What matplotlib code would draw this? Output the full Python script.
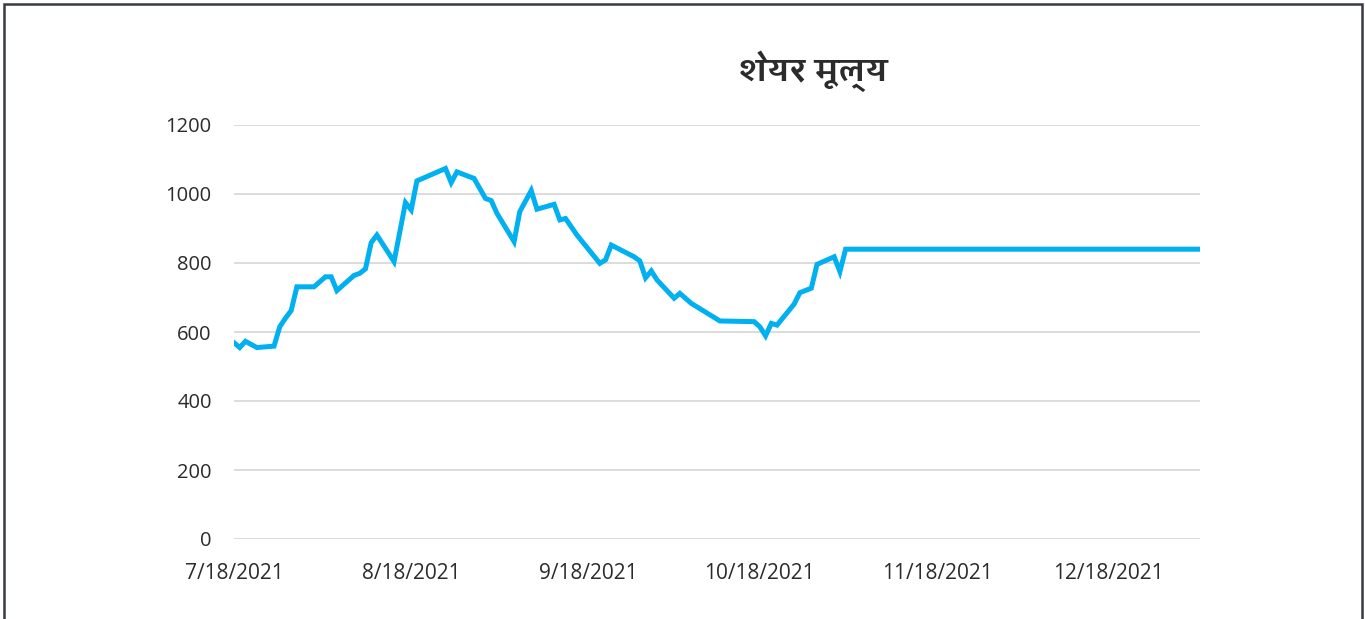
import matplotlib
matplotlib.use("Agg")
import matplotlib.pyplot as plt
import matplotlib.dates as mdates
from matplotlib import font_manager
from matplotlib.patches import Rectangle
import pandas as pd

# share price readings
dates = ["2021-07-18", "2021-07-19", "2021-07-20", "2021-07-22", "2021-07-25",
         "2021-07-26", "2021-07-27", "2021-07-28", "2021-07-29", "2021-08-01",
         "2021-08-03", "2021-08-04", "2021-08-05", "2021-08-08", "2021-08-09",
         "2021-08-10", "2021-08-11", "2021-08-12", "2021-08-15", "2021-08-17",
         "2021-08-18", "2021-08-19", "2021-08-24", "2021-08-25", "2021-08-26",
         "2021-08-29", "2021-08-31", "2021-09-01", "2021-09-02", "2021-09-05",
         "2021-09-06", "2021-09-08", "2021-09-09", "2021-09-12", "2021-09-13",
         "2021-09-14", "2021-09-16", "2021-09-20", "2021-09-21", "2021-09-22",
         "2021-09-26", "2021-09-27", "2021-09-28", "2021-09-29", "2021-09-30",
         "2021-10-03", "2021-10-04", "2021-10-06", "2021-10-11", "2021-10-17",
         "2021-10-18", "2021-10-19", "2021-10-20", "2021-10-21", "2021-10-24",
         "2021-10-25", "2021-10-27", "2021-10-28", "2021-10-31", "2021-11-01",
         "2021-11-02", "2022-01-03"]
prices = [569, 555, 573, 555, 559,
          615, 640, 662, 731, 731,
          760, 760, 720, 764, 770,
          783, 859, 881, 804, 975,
          954, 1038, 1074, 1033, 1064,
          1045, 987, 981, 944, 862,
          949, 1010, 956, 970, 925,
          929, 881, 799, 809, 852,
          818, 806, 757, 777, 751,
          698, 712, 683, 632, 630,
          615, 589, 625, 620, 681,
          714, 727, 796, 818, 775,
          840, 840]

tick_dates = ["2021-07-18", "2021-08-18", "2021-09-18", "2021-10-18",
              "2021-11-18", "2021-12-18"]
y_ticks = [0, 200, 400, 600, 800, 1000, 1200]
title = "शेयर मूल्य"

# pick an installed Devanagari family that has a real bold face
installed = {f.name for f in font_manager.fontManager.ttflist}
dev_font = "FreeSans"
for name in ["Amiko", "FreeSans", "Noto Sans Devanagari"]:
    if name in installed:
        dev_font = name
        break

plt.rcParams["font.family"] = ["Open Sans", "DejaVu Sans"]

x = pd.to_datetime(dates)

fig = plt.figure(figsize=(13.65, 6.19), dpi=100)
fig.patches.append(Rectangle((4 / 1365, -0.05), 1358 / 1365, 1 - 4 / 619 + 0.05,
                             transform=fig.transFigure, fill=False,
                             edgecolor="#383c40", linewidth=1.8))

ax = fig.add_axes([234 / 1365, 1 - 539 / 619, (1200 - 234) / 1365, (539 - 125) / 619])
ax.plot(x, prices, color="#00b0f0", linewidth=3.6, solid_joinstyle="miter")

ax.set_ylim(0, 1200)
ax.set_xlim(x[0], x[-1])
ax.set_yticks(y_ticks)
ax.set_xticks(pd.to_datetime(tick_dates))
ax.xaxis.set_major_formatter(
    plt.FuncFormatter(lambda v, p: "{d.month}/{d.day}/{d.year}".format(d=mdates.num2date(v))))
ax.grid(axis="y", color="#d9d9d9", linewidth=1.3)
ax.set_axisbelow(True)
for s in ax.spines.values():
    s.set_visible(False)
ax.tick_params(length=0, labelsize=14.5, labelcolor="#2b2b2b")
ax.tick_params(axis="y", pad=16)
ax.tick_params(axis="x", pad=17, labelsize=15)

fig.text(813 / 1365, 1 - 71 / 619, title, ha="center", va="center",
         fontsize=24, fontweight="bold", color="#2b2b2b",
         family=[dev_font, "DejaVu Sans"])

fig.savefig("out.png", dpi=100)
